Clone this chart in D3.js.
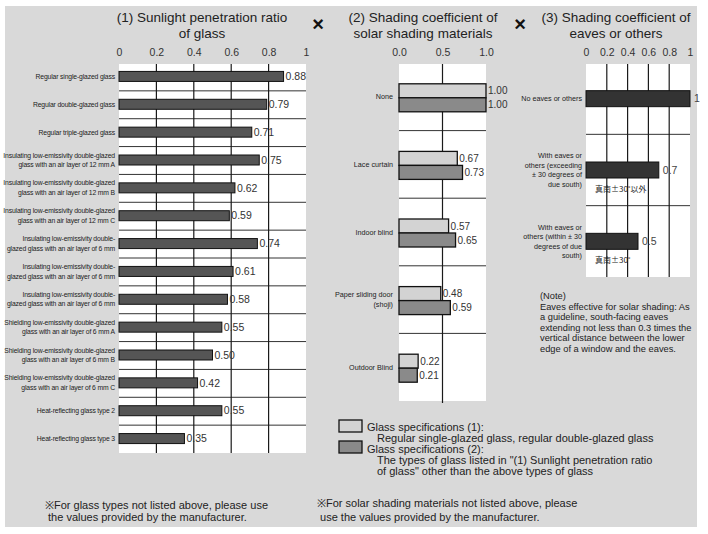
<!DOCTYPE html>
<html>
<head>
<meta charset="utf-8">
<script src="https://cdn.jsdelivr.net/npm/d3@7"></script>
<style>
  html, body { margin: 0; padding: 0; background: #ffffff; }
  svg { display: block; font-family: "Liberation Sans", Arial, sans-serif; }
</style>
</head>
<body>
<svg id="chart" width="708" height="534"></svg>
<script>
// ---------- DATA ----------
const glassTypes = [
  "Regular single-glazed glass",
  "Regular double-glazed glass",
  "Regular triple-glazed glass",
  "Insulating low-emissivity double-glazed\nglass with an air layer of 12 mm A",
  "Insulating low-emissivity double-glazed\nglass with an air layer of 12 mm B",
  "Insulating low-emissivity double-glazed\nglass with an air layer of 12 mm C",
  "Insulating low-emissivity double-\nglazed glass with an air layer of 6 mm",
  "Insulating low-emissivity double-\nglazed glass with an air layer of 6 mm ",
  "Insulating low-emissivity double-\nglazed glass with an air layer of 6 mm  ",
  "Shielding low-emissivity double-glazed\nglass with an air layer of 6 mm A",
  "Shielding low-emissivity double-glazed\nglass with an air layer of 6 mm B",
  "Shielding low-emissivity double-glazed\nglass with an air layer of 6 mm C",
  "Heat-reflecting glass type 2",
  "Heat-reflecting glass type 3"
];
const glassRatio = [0.88, 0.79, 0.71, 0.75, 0.62, 0.59, 0.74, 0.61, 0.58, 0.55, 0.50, 0.42, 0.55, 0.35];
const glassTicks = [0, 0.2, 0.4, 0.6, 0.8, 1];
const glassTickLabels = ["0", "0.2", "0.4", "0.6", "0.8", "1"];

const shadingMaterials = ["None", "Lace curtain", "Indoor blind", "Paper sliding door\n(shoji)", "Outdoor Blind"];
const shadingSpec1 = [1.00, 0.67, 0.57, 0.48, 0.22];
const shadingSpec2 = [1.00, 0.73, 0.65, 0.59, 0.21];
const shadingTicks = [0, 0.5, 1];
const shadingTickLabels = ["0.0", "0.5", "1.0"];

const eavesTypes = [
  "No eaves or others",
  "With eaves or\nothers (exceeding\n\u00b1 30 degrees of\ndue south)",
  "With eaves or\nothers (within \u00b1 30\ndegrees of due\nsouth)"
];
const eavesCoef = [1, 0.7, 0.5];
const eavesValueLabels = ["1", "0.7", "0.5"];
const eavesSubLabels = ["", "真南±30˚以外", "真南±30˚"];
const eavesTicks = [0, 0.2, 0.4, 0.6, 0.8, 1];
const eavesTickLabels = ["0", "0.2", "0.4", "0.6", "0.8", "1"];

const titles = [
  ["(1) Sunlight penetration ratio", "of glass"],
  ["(2) Shading coefficient of", "solar shading materials"],
  ["(3) Shading coefficient of", "eaves or others"]
];
const legendItems = [
  ["Glass specifications (1):", "Regular single-glazed glass, regular double-glazed glass"],
  ["Glass specifications (2):", "The types of glass listed in \"(1) Sunlight penetration ratio", "of glass\" other than the above types of glass"]
];
const noteLines = [
  "(Note)",
  "Eaves effective for solar shading: As",
  "a guideline, south-facing eaves",
  "extending not less than 0.3 times the",
  "vertical distance between the lower",
  "edge of a window and the eaves."
];
const footnote1 = ["\u203bFor glass types not listed above, please use", " the values provided by the manufacturer."];
const footnote2 = ["\u203bFor solar shading materials not listed above, please", " use the values provided by the manufacturer."];

// ---------- DRAW ----------
const svg = d3.select("#chart");
const TEXT = "#222";
const GRID = "#1a1a1a";

svg.append("rect").attr("x", 5).attr("y", 6).attr("width", 692).attr("height", 521).attr("fill", "#d9d9d9");

function multiline(g, str, x, y, size, lh, anchor) {
  const lines = str.replace(/\s+$/, "").split("\n");
  const t = g.append("text").attr("x", x).attr("y", y).attr("text-anchor", anchor)
    .attr("font-size", size).attr("fill", TEXT);
  const off = -(lines.length - 1) / 2 * lh;
  lines.forEach((l, i) => {
    t.append("tspan").attr("x", x).attr("y", y + off + i * lh).attr("dy", "0.35em").text(l);
  });
  return t;
}

function title(lines, cx) {
  lines.forEach((l, i) => {
    svg.append("text").attr("x", cx).attr("y", 22 + i * 16).attr("text-anchor", "middle")
      .attr("font-size", 13.5).attr("fill", TEXT).text(l);
  });
}

function axisTop(x, ticks, labels) {
  const ax = d3.axisTop(x).tickValues(ticks).tickSize(0).tickPadding(0)
    .tickFormat((d, i) => labels[i]);
  const g = svg.append("g").attr("transform", "translate(0,56)").call(ax);
  g.select(".domain").remove();
  g.selectAll("text").attr("font-size", 10.5).attr("fill", "#333")
    .attr("font-family", "Liberation Sans, Arial, sans-serif");
}

// ---- Chart 1 ----
{
  const x = d3.scaleLinear().domain([0, 1]).range([119, 306]);
  const y = d3.scaleBand().domain(glassTypes).range([63, 453]);
  title(titles[0], 202);
  axisTop(x, glassTicks, glassTickLabels);
  svg.append("rect").attr("x", x(0)).attr("y", 64).attr("width", x(1) - x(0)).attr("height", 389).attr("fill", "#fff");
  const g = svg.append("g");
  g.selectAll(".sep").data(glassTypes.slice(1)).join("line")
    .attr("x1", x(0)).attr("x2", x(1)).attr("y1", d => y(d)).attr("y2", d => y(d))
    .attr("stroke", "#333").attr("stroke-width", 1);
  g.selectAll(".vg").data(glassTicks.slice(1, -1)).join("line")
    .attr("x1", d => x(d)).attr("x2", d => x(d)).attr("y1", 64).attr("y2", 453)
    .attr("stroke", GRID).attr("stroke-width", 1.2);
  g.selectAll(".bar").data(glassRatio).join("rect")
    .attr("x", x(0)).attr("y", (d, i) => y(glassTypes[i]) + y.bandwidth() / 2 - 5.5)
    .attr("width", d => x(d) - x(0)).attr("height", 10)
    .attr("fill", "#555").attr("stroke", "#111").attr("stroke-width", 1);
  g.selectAll(".val").data(glassRatio).join("text")
    .attr("x", d => x(d) + 2).attr("y", (d, i) => y(glassTypes[i]) + y.bandwidth() / 2 - 0.5)
    .attr("dy", "0.35em").attr("font-size", 10.5).attr("fill", "#333")
    .text(d => d3.format(".2f")(d));
  glassTypes.forEach(c => {
    const t = multiline(svg, c, 115, y(c) + y.bandwidth() / 2 - 0.5, 6.8, 9.5, "end");
    t.attr("letter-spacing", -0.15);
  });
}

// ---- Chart 2 ----
{
  const x = d3.scaleLinear().domain([0, 1]).range([399, 486]);
  const y = d3.scaleBand().domain(shadingMaterials).range([63, 401]);
  title(titles[1], 423);
  axisTop(x, shadingTicks, shadingTickLabels);
  svg.append("rect").attr("x", x(0)).attr("y", 64).attr("width", x(1) - x(0)).attr("height", 337).attr("fill", "#fff");
  const g = svg.append("g");
  g.selectAll(".sep").data(shadingMaterials.slice(1)).join("line")
    .attr("x1", x(0)).attr("x2", x(1)).attr("y1", d => y(d)).attr("y2", d => y(d))
    .attr("stroke", "#333").attr("stroke-width", 1);
  g.selectAll(".vg").data(shadingTicks.slice(1, -1)).join("line")
    .attr("x1", d => x(d)).attr("x2", d => x(d)).attr("y1", 64).attr("y2", 403)
    .attr("stroke", GRID).attr("stroke-width", 1.2);
  const cy = i => y(shadingMaterials[i]) + y.bandwidth() / 2 + 1;
  g.selectAll(".b1").data(shadingSpec1).join("rect")
    .attr("x", x(0)).attr("y", (d, i) => cy(i) - 14).attr("width", d => x(d) - x(0)).attr("height", 14)
    .attr("fill", "#d3d3d3").attr("stroke", "#111").attr("stroke-width", 1.3);
  g.selectAll(".b2").data(shadingSpec2).join("rect")
    .attr("x", x(0)).attr("y", (d, i) => cy(i)).attr("width", d => x(d) - x(0)).attr("height", 14)
    .attr("fill", "#8a8a8a").attr("stroke", "#111").attr("stroke-width", 1.3);
  g.selectAll(".v1").data(shadingSpec1).join("text")
    .attr("x", d => x(d) + 2).attr("y", (d, i) => cy(i) - 7).attr("dy", "0.35em")
    .attr("font-size", 10).attr("fill", "#333").text(d => d3.format(".2f")(d));
  g.selectAll(".v2").data(shadingSpec2).join("text")
    .attr("x", d => x(d) + 2).attr("y", (d, i) => cy(i) + 7).attr("dy", "0.35em")
    .attr("font-size", 10).attr("fill", "#333").text(d => d3.format(".2f")(d));
  shadingMaterials.forEach((c, i) => {
    multiline(svg, c, 393, cy(i) - 1, 7.2, 10, "end");
  });
}

// ---- Chart 3 ----
{
  const x = d3.scaleLinear().domain([0, 1]).range([586, 690]);
  const y = d3.scaleBand().domain(eavesTypes).range([63, 277]);
  title(titles[2], 616);
  axisTop(x, eavesTicks, eavesTickLabels);
  svg.append("rect").attr("x", x(0)).attr("y", 64).attr("width", x(1) - x(0)).attr("height", 213).attr("fill", "#fff");
  const g = svg.append("g");
  g.selectAll(".sep").data(eavesTypes.slice(1)).join("line")
    .attr("x1", x(0)).attr("x2", x(1)).attr("y1", d => y(d)).attr("y2", d => y(d))
    .attr("stroke", "#333").attr("stroke-width", 1);
  g.selectAll(".vg").data(eavesTicks.slice(1, -1)).join("line")
    .attr("x1", d => x(d)).attr("x2", d => x(d)).attr("y1", 64).attr("y2", 277)
    .attr("stroke", GRID).attr("stroke-width", 1.2);
  const cy = i => y(eavesTypes[i]) + y.bandwidth() / 2;
  g.selectAll(".bar").data(eavesCoef).join("rect")
    .attr("x", x(0)).attr("y", (d, i) => cy(i) - 8).attr("width", d => x(d) - x(0)).attr("height", 16)
    .attr("fill", "#333").attr("stroke", "#111").attr("stroke-width", 1);
  g.selectAll(".val").data(eavesCoef).join("text")
    .attr("x", d => x(d) + 4).attr("y", (d, i) => cy(i)).attr("dy", "0.35em")
    .attr("font-size", 10.5).attr("fill", "#444").text((d, i) => eavesValueLabels[i]);
  g.selectAll(".sub").data(eavesSubLabels).join("text")
    .attr("x", 595).attr("y", (d, i) => cy(i) + 19).attr("dy", "0.35em")
    .attr("font-size", 8).attr("fill", "#222")
    .attr("font-family", "'Noto Sans CJK JP', sans-serif").text(d => d);
  eavesTypes.forEach((c, i) => {
    multiline(svg, c, 582, cy(i), 7.2, 9.5, "end");
  });
}

// ---- multiplication signs ----
[318, 520].forEach(cx => {
  svg.append("text").attr("x", cx).attr("y", 24).attr("text-anchor", "middle").attr("dy", "0.35em")
    .attr("font-size", 20).attr("font-weight", "bold").attr("fill", "#111").text("\u00d7");
});

// ---- legend ----
{
  const fills = ["#d3d3d3", "#8a8a8a"];
  const boxY = [420, 441];
  const baseY = [431, 453];
  legendItems.forEach((item, k) => {
    svg.append("rect").attr("x", 339).attr("y", boxY[k]).attr("width", 23).attr("height", 12)
      .attr("fill", fills[k]).attr("stroke", "#111").attr("stroke-width", 1.3);
    item.forEach((l, j) => {
      svg.append("text").attr("x", j === 0 ? 367 : 377).attr("y", baseY[k] + j * 11)
        .attr("font-size", 11).attr("fill", TEXT).text(l);
    });
  });
}

// ---- note ----
noteLines.forEach((l, i) => {
  svg.append("text").attr("x", 540).attr("y", 299 + i * 10.6).attr("font-size", 9.3).attr("fill", TEXT).text(l);
});

// ---- footnotes ----
footnote1.forEach((l, i) => {
  svg.append("text").attr("x", 45).attr("y", 509 + i * 12).attr("font-size", 11).attr("fill", TEXT)
    .style("white-space", "pre").text(l);
});
footnote2.forEach((l, i) => {
  svg.append("text").attr("x", 317).attr("y", 507 + i * 13.5).attr("font-size", 11).attr("fill", TEXT)
    .style("white-space", "pre").text(l);
});
</script>
</body>
</html>
